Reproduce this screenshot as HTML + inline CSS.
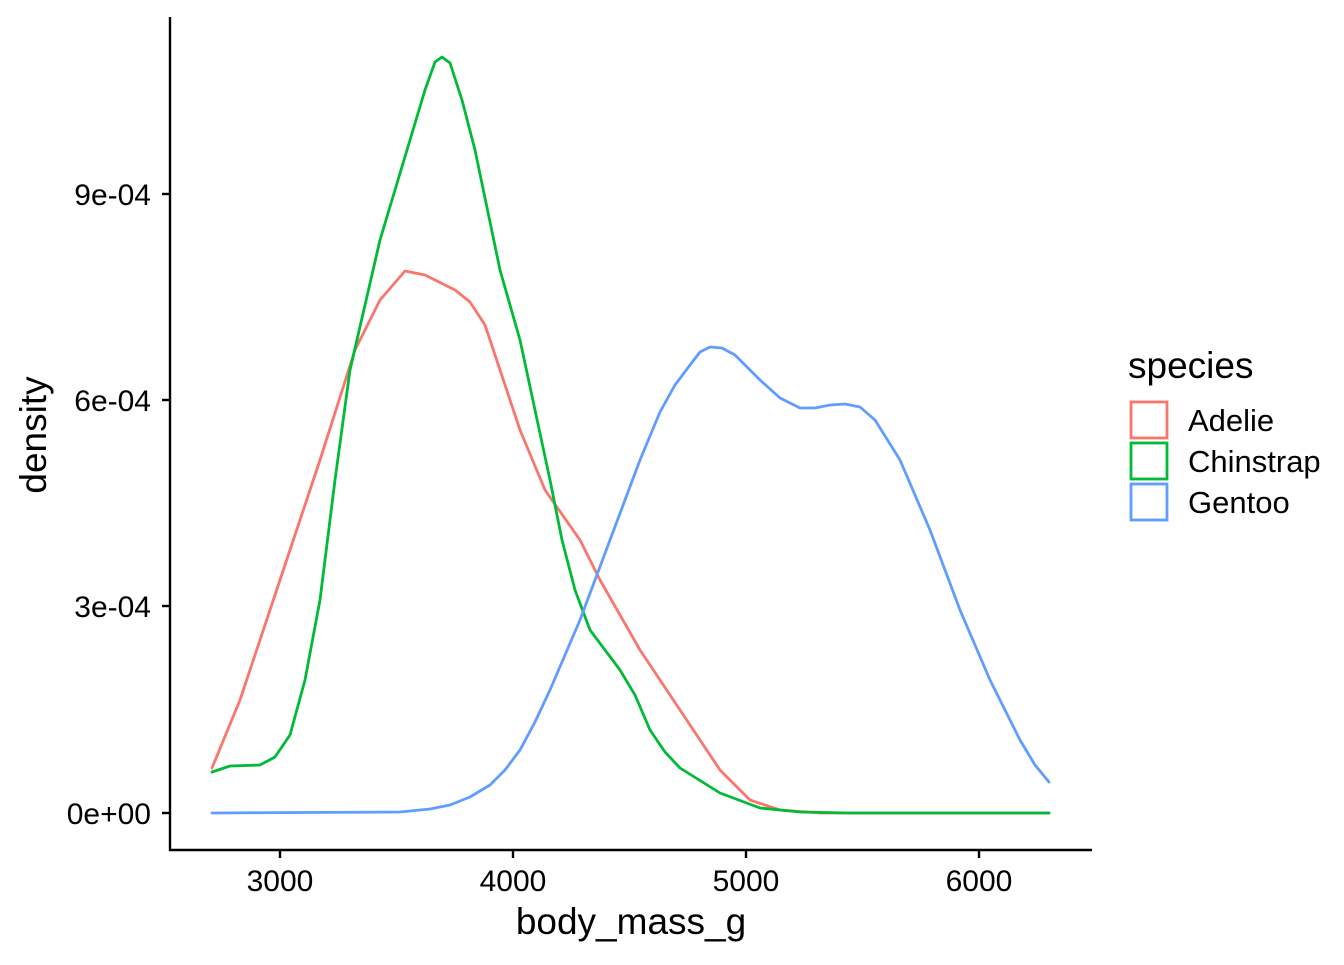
<!DOCTYPE html>
<html><head><meta charset="utf-8"><style>body{margin:0;background:#fff}</style></head><body>
<svg width="1344" height="960" xmlns="http://www.w3.org/2000/svg" font-family="Liberation Sans, Arial, sans-serif">
<rect width="1344" height="960" fill="#fff"/>
<g fill="none" stroke-width="2.8" stroke-linejoin="round" stroke-linecap="round">
<polyline stroke="#F8766D" points="212,768 240,700 280,580 320,460 355,350 380,300 405,271 425,275 455,290 470,302 485,325 500,370 520,430 545,490 580,540 600,580 640,650 680,710 720,770 750,800 780,810 820,813 1049,813"/>
<polyline stroke="#00BA38" points="212,772 230,766 260,765 275,757 290,735 305,680 320,600 335,480 350,370 380,240 410,140 425,90 435,62 442,57 450,63 462,100 475,150 500,270 520,340 535,410 550,480 562,540 575,590 590,630 620,670 635,695 650,730 665,752 680,768 720,793 760,808 800,812 850,813 1049,813"/>
<polyline stroke="#619CFF" points="212,813 400,812 430,809 450,805 470,797 490,785 505,770 520,750 535,722 550,690 580,620 610,540 640,460 660,412 675,385 690,365 700,352 710,347 722,348 735,355 760,380 780,398 800,408 815,408 830,405 845,404 860,407 875,420 900,460 930,530 960,610 990,680 1020,740 1035,765 1049,782"/>
</g>
<g stroke="#000" stroke-width="2.4" fill="none">
<line x1="170" y1="17" x2="170" y2="851"/>
<line x1="169" y1="850" x2="1092" y2="850"/>
<line x1="162" y1="813" x2="170" y2="813"/><line x1="162" y1="606" x2="170" y2="606"/>
<line x1="162" y1="400" x2="170" y2="400"/><line x1="162" y1="194" x2="170" y2="194"/>
<line x1="280" y1="850" x2="280" y2="858"/><line x1="513" y1="850" x2="513" y2="858"/>
<line x1="746" y1="850" x2="746" y2="858"/><line x1="979" y1="850" x2="979" y2="858"/>
</g>
<g font-size="30" fill="#000" text-anchor="end">
<text x="151" y="824">0e+00</text><text x="151" y="617">3e-04</text>
<text x="151" y="411">6e-04</text><text x="151" y="205">9e-04</text>
</g>
<g font-size="30" fill="#000" text-anchor="middle">
<text x="280" y="891">3000</text><text x="513" y="891">4000</text>
<text x="746" y="891">5000</text><text x="979" y="891">6000</text>
<text x="631" y="934" font-size="37">body_mass_g</text>
<text transform="translate(46,435) rotate(-90)" font-size="37">density</text>
</g>
<text x="1128" y="378" font-size="37">species</text>
<g fill="none" stroke-width="2.8">
<rect x="1131" y="402" width="36" height="36" stroke="#F8766D"/>
<rect x="1131" y="443" width="36" height="36" stroke="#00BA38"/>
<rect x="1131" y="484" width="36" height="36" stroke="#619CFF"/>
</g>
<g font-size="31">
<text x="1188" y="431">Adelie</text><text x="1188" y="472">Chinstrap</text><text x="1188" y="513">Gentoo</text>
</g>
</svg>
</body></html>
